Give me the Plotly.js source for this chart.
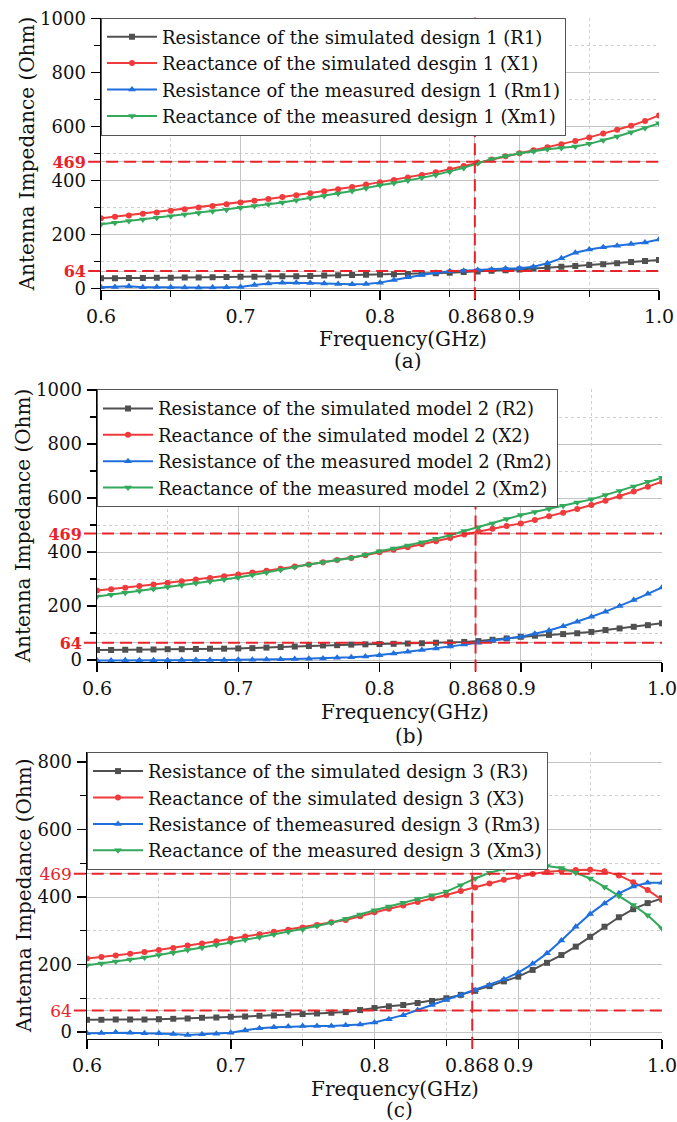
<!DOCTYPE html>
<html>
<head>
<meta charset="utf-8">
<script src="https://cdn.plot.ly/plotly-3.0.1.min.js"></script>
<style>
html,body{margin:0;padding:0;background:#fff;}
#chart{width:677px;height:1122px;}
</style>
</head>
<body>
<div id="chart"></div>
<script>
// ---------------- DATA ----------------
const freq = [0.60,0.61,0.62,0.63,0.64,0.65,0.66,0.67,0.68,0.69,0.70,0.71,0.72,0.73,0.74,0.75,0.76,0.77,0.78,0.79,0.80,
              0.81,0.82,0.83,0.84,0.85,0.86,0.87,0.88,0.89,0.90,0.91,0.92,0.93,0.94,0.95,0.96,0.97,0.98,0.99,1.00];

// (a) design 1
const R1  = [37,37,38,38,39,39,40,40,41,42,43,43,44,45,45,46,47,48,49,50,51,52,53,55,56,58,60,62,65,67,70,73,77,80,83,86,89,93,97,101,105];
const X1  = [259,265,270,276,281,287,293,299,305,311,318,324,331,338,345,352,359,367,375,384,393,401,410,420,430,441,453,466,477,489,500,511,522,534,546,559,573,587,602,620,640];
const Rm1 = [4,5,8,4,5,4,3,2,3,4,5,12,18,21,21,20,18,16,15,16,21,31,41,49,58,63,65,68,70,73,74,80,93,111,132,144,152,158,164,170,181];
const Xm1 = [237,243,249,255,261,267,273,279,285,291,298,305,311,318,326,334,342,351,360,371,382,390,399,409,420,432,446,463,478,490,500,508,515,520,525,535,548,562,578,594,611];
const names1 = ["Resistance of the simulated design 1 (R1)","Reactance of the simulated desgin 1 (X1)",
                "Resistance of the measured design 1 (Rm1)","Reactance of the measured design 1 (Xm1)"];

// (b) model 2
const R2  = [37,37,38,38,39,40,40,41,42,42,43,44,46,48,50,52,54,55,57,58,59,60,61,62,64,65,67,70,75,80,86,90,93,96,99,104,111,117,123,129,136];
const X2  = [257,262,268,274,280,286,292,298,304,310,317,324,331,338,346,354,362,370,378,388,399,408,418,429,440,452,465,476,486,496,506,519,532,545,559,574,590,606,624,642,660];
const Rm2 = [-2,-2,-1,-1,-1,-1,0,0,0,0,1,1,2,3,4,5,6,8,10,13,18,24,31,37,43,50,57,64,72,79,86,97,109,125,142,160,179,200,222,245,269];
const Xm2 = [235,242,249,256,263,270,277,284,291,298,306,315,324,334,344,354,362,370,378,390,403,413,424,436,449,462,478,492,506,522,537,548,559,571,583,595,611,626,643,660,675];
const names2 = ["Resistance of the simulated model 2 (R2)","Reactance of the simulated model 2 (X2)",
                "Resistance of the measured model 2 (Rm2)","Reactance of the measured model 2 (Xm2)"];

// (c) design 3
const R3  = [36,36,37,37,37,38,39,40,42,43,45,46,48,49,51,53,55,57,59,65,71,76,80,86,92,100,110,122,136,150,164,184,205,228,253,282,312,340,364,382,396];
const X3  = [218,222,227,232,237,243,249,256,262,269,276,283,290,297,303,310,317,325,332,343,355,365,375,385,396,406,418,428,440,451,460,468,475,478,480,481,476,464,444,421,391];
const Rm3 = [-4,-3,-1,-2,-4,-4,-6,-9,-7,-5,-2,5,11,14,16,18,18,18,20,22,28,38,50,65,80,95,110,124,139,156,176,202,233,271,312,350,381,411,431,442,442];
const Xm3 = [198,203,209,215,221,228,235,243,250,258,265,273,281,289,297,304,314,324,335,348,361,372,383,394,405,416,435,455,472,483,490,493,492,486,472,455,430,403,376,346,307];
const names3 = ["Resistance of the simulated design 3 (R3)","Reactance of the simulated design 3 (X3)",
                "Resistance of themeasured design 3 (Rm3)","Reactance of the measured design 3 (Xm3)"];

// ticks and reference values
const xTickVals = [0.6,0.7,0.8,0.868,0.9,1.0];
const xTickText = ["0.6","0.7","0.8","0.868","0.9","1.0"];
const xMinorVals = [0.65,0.75,0.85,0.95];
const refVals = [64,469];
const refFreq = 0.868;
const panelLabels = ["(a)","(b)","(c)"];
const xTitle = "Frequency(GHz)";
const yTitle = "Antenna Impedance (Ohm)";

// ---------------- STYLE / LAYOUT ----------------
const W = 677, H = 1122;
const FONT = "'DejaVu Serif', 'Liberation Serif', serif";
const RED = "#e8232a";
const seriesStyle = [
  {color:"#505050", symbol:"square", size:6},
  {color:"#ef3b3b", symbol:"circle", size:6},
  {color:"#1f6fdc", symbol:"triangle-up", size:7},
  {color:"#33a95b", symbol:"triangle-down", size:7}
];

const panels = [
  {series:[R1,X1,Rm1,Xm1], names:names1, xpx:[101,659], ypx:[17.5,289.65], yr:[-5,1003],
   yt:[0,200,400,600,800,1000], ym:[100,300,500,700,900], bold:true,
   xt:{x:403,y:339}, lab:{x:408,y:361}},
  {series:[R2,X2,Rm2,Xm2], names:names2, xpx:[97,662], ypx:[389.2,661.9], yr:[-7,1003],
   yt:[0,200,400,600,800,1000], ym:[100,300,500,700,900], bold:true,
   xt:{x:405,y:712}, lab:{x:409,y:736}},
  {series:[R3,X3,Rm3,Xm3], names:names3, xpx:[87,662], ypx:[751.9,1038.75], yr:[-20,830],
   yt:[0,200,400,600,800], ym:[100,300,500,700], bold:false,
   xt:{x:395,y:1089}, lab:{x:399,y:1110}}
];

const data = [];
const layout = {
  width:W, height:H, margin:{l:0,r:0,t:0,b:0},
  paper_bgcolor:"#fff", plot_bgcolor:"#fff",
  font:{family:FONT, size:18, color:"#111"},
  showlegend:true, hovermode:false,
  shapes:[], annotations:[]
};

panels.forEach((p, i) => {
  const n = i + 1;
  const xs = n === 1 ? "" : String(n);
  const xId = "x" + xs, yId = "y" + xs;
  const legId = n === 1 ? "legend" : "legend" + n;
  const xd = [p.xpx[0] / W, p.xpx[1] / W];
  const yd = [1 - p.ypx[1] / H, 1 - p.ypx[0] / H];

  p.series.forEach((ys, k) => {
    const st = seriesStyle[k];
    data.push({
      type:"scatter", mode:"lines+markers", x:freq, y:ys, name:p.names[k],
      xaxis:xId, yaxis:yId, legend:legId,
      line:{color:st.color, width:2},
      marker:{color:st.color, symbol:st.symbol, size:st.size}
    });
  });

  const axCommon = {
    showline:true, linecolor:"#000", linewidth:1.5, mirror:false,
    ticks:"outside", ticklen:9, tickwidth:1.5, tickcolor:"#000",
    zeroline:false, showgrid:true, gridcolor:"#c4c4c4", gridwidth:1,
    ticklabeloverflow:"allow"
  };

  layout["xaxis" + xs] = Object.assign({}, axCommon, {
    domain:xd, anchor:yId, range:[0.6,1.0],
    tickmode:"array", tickvals:xTickVals, ticktext:xTickText,
    tickfont:{family:FONT, size:19, color:"#111"}, ticklabelstandoff:0,
    minor:{tickmode:"array", tickvals:xMinorVals, ticks:"outside", ticklen:6, tickwidth:1.2, tickcolor:"#000",
           showgrid:true, gridcolor:"#cfcfcf", griddash:"dot", gridwidth:1}
  });

  const yVals = p.yt.concat(refVals);
  const yText = p.yt.map(String).concat(refVals.map(v =>
      '<span style="color:' + RED + (p.bold ? ';font-weight:bold;font-size:16px' : ';font-size:17px') + '">' + v + '</span>'));

  layout["yaxis" + xs] = Object.assign({}, axCommon, {
    domain:yd, anchor:xId, range:p.yr,
    tickmode:"array", tickvals:yVals, ticktext:yText,
    tickfont:{family:FONT, size:18, color:"#111"}, ticklabelstandoff:1,
    minor:{tickmode:"array", tickvals:p.ym, ticks:"outside", ticklen:6, tickwidth:1.2, tickcolor:"#000",
           showgrid:true, gridcolor:"#cfcfcf", griddash:"dot", gridwidth:1},
    title:{text:yTitle, font:{family:FONT, size:20, color:"#111"}, standoff:0}
  });

  layout[legId] = {
    x:xd[0], y:yd[1], xanchor:"left", yanchor:"top",
    bgcolor:"#fff", bordercolor:"#555", borderwidth:1,
    font:{family:FONT, size:18, color:"#111"}, itemwidth:50, tracegroupgap:0
  };

  // red dashed reference lines
  refVals.forEach(v => {
    layout.shapes.push({type:"line", xref:xId + " domain", yref:yId, x0:-0.023, x1:1, y0:v, y1:v,
      line:{color:RED, width:2, dash:"12px,6px"}});
  });
  layout.shapes.push({type:"line", xref:xId, yref:yId + " domain", x0:refFreq, x1:refFreq, y0:-0.035, y1:1,
    line:{color:RED, width:2, dash:"12px,6px"}});

  layout.annotations.push({text:xTitle, xref:"paper", yref:"paper",
    x:p.xt.x / W, y:1 - p.xt.y / H, xanchor:"center", yanchor:"middle", showarrow:false,
    font:{family:FONT, size:20, color:"#111"}});
  layout.annotations.push({text:panelLabels[i], xref:"paper", yref:"paper",
    x:p.lab.x / W, y:1 - p.lab.y / H, xanchor:"center", yanchor:"middle", showarrow:false,
    font:{family:FONT, size:20, color:"#111"}});
});

Plotly.newPlot("chart", data, layout, {displayModeBar:false, staticPlot:true});
</script>
</body>
</html>
